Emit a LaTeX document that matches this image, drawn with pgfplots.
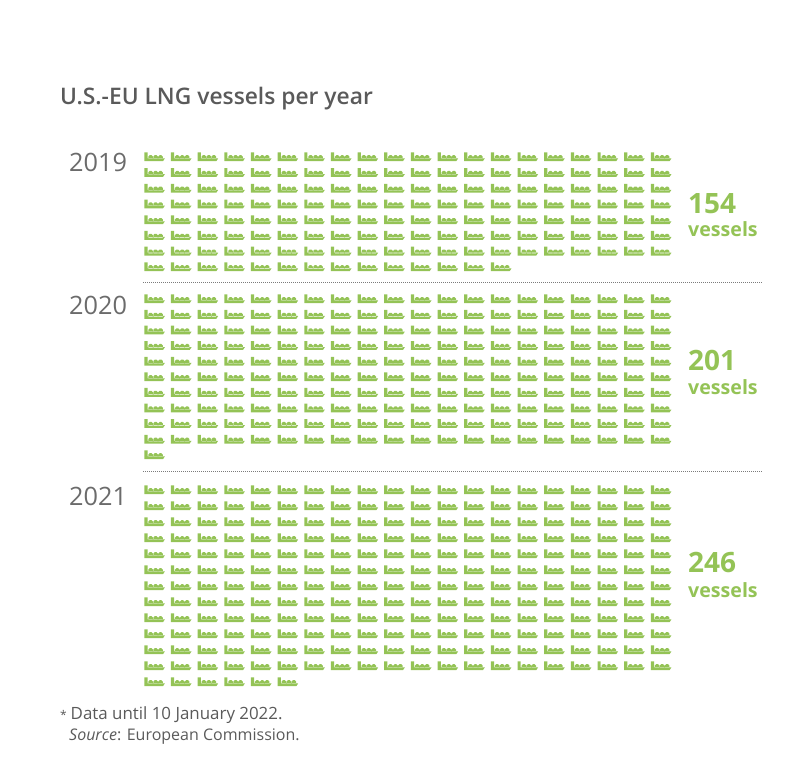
\documentclass[border=0pt]{standalone}
\usepackage{pgfplots}
\pgfplotsset{compat=1.18}
\usepackage{fontspec}
\setmainfont{Open Sans}
\definecolor{vgreen}{HTML}{94C356}
\definecolor{tgrey}{HTML}{5A5A5A}
\pgfdeclareplotmark{vessel}{%
  \pgfpathmoveto{\pgfqpoint{-10.2pt}{-4.2pt}}%
  \pgfpathlineto{\pgfqpoint{8.5pt}{-4.2pt}}%
  \pgfpathlineto{\pgfqpoint{10.4pt}{-1.4pt}}%
  \pgfpathlineto{\pgfqpoint{-7.0pt}{-1.4pt}}%
  \pgfpathlineto{\pgfqpoint{-7.0pt}{4.6pt}}%
  \pgfpathlineto{\pgfqpoint{-10.2pt}{4.6pt}}%
  \pgfpathclose
  \pgfpathmoveto{\pgfqpoint{-6.2pt}{-2pt}}\pgfpathlineto{\pgfqpoint{-6.2pt}{0.4pt}}\pgfpathlineto{\pgfqpoint{-4.8pt}{1.8pt}}\pgfpathlineto{\pgfqpoint{-3.0pt}{1.8pt}}\pgfpathlineto{\pgfqpoint{-1.6pt}{0.4pt}}\pgfpathlineto{\pgfqpoint{-1.6pt}{-2pt}}\pgfpathclose
  \pgfpathmoveto{\pgfqpoint{-1.2pt}{-2pt}}\pgfpathlineto{\pgfqpoint{-1.2pt}{0.4pt}}\pgfpathlineto{\pgfqpoint{0.2pt}{1.8pt}}\pgfpathlineto{\pgfqpoint{2.0pt}{1.8pt}}\pgfpathlineto{\pgfqpoint{3.4pt}{0.4pt}}\pgfpathlineto{\pgfqpoint{3.4pt}{-2pt}}\pgfpathclose
  \pgfpathmoveto{\pgfqpoint{3.7pt}{-2pt}}\pgfpathlineto{\pgfqpoint{3.7pt}{0.4pt}}\pgfpathlineto{\pgfqpoint{5.1pt}{1.8pt}}\pgfpathlineto{\pgfqpoint{6.9pt}{1.8pt}}\pgfpathlineto{\pgfqpoint{8.3pt}{0.4pt}}\pgfpathlineto{\pgfqpoint{8.3pt}{-2pt}}\pgfpathclose
  \pgfusepathqfill
}
\pgfplotsset{vesselgrid/.style={
  anchor=south west, scale only axis, width=533.2pt, hide axis, clip=false,
  xmin=0.5, xmax=20.5, ymin=0.5, y dir=reverse
}, vesselplot/.style={only marks, mark=vessel, color=vgreen, mark options={solid,fill=vgreen,draw=none}}}
\begin{document}
\begin{tikzpicture}[x=1pt,y=1pt]
\path (0,0) rectangle (803,783);
% 2019: 154 vessels
\begin{axis}[vesselgrid, at={(141.17pt,508.1pt)}, height=125.76pt, ymax=8.5]
\addplot[vesselplot] coordinates {
(1,1)(2,1)(3,1)(4,1)(5,1)(6,1)(7,1)(8,1)(9,1)(10,1)(11,1)(12,1)(13,1)(14,1)(15,1)(16,1)(17,1)(18,1)(19,1)(20,1)
(1,2)(2,2)(3,2)(4,2)(5,2)(6,2)(7,2)(8,2)(9,2)(10,2)(11,2)(12,2)(13,2)(14,2)(15,2)(16,2)(17,2)(18,2)(19,2)(20,2)
(1,3)(2,3)(3,3)(4,3)(5,3)(6,3)(7,3)(8,3)(9,3)(10,3)(11,3)(12,3)(13,3)(14,3)(15,3)(16,3)(17,3)(18,3)(19,3)(20,3)
(1,4)(2,4)(3,4)(4,4)(5,4)(6,4)(7,4)(8,4)(9,4)(10,4)(11,4)(12,4)(13,4)(14,4)(15,4)(16,4)(17,4)(18,4)(19,4)(20,4)
(1,5)(2,5)(3,5)(4,5)(5,5)(6,5)(7,5)(8,5)(9,5)(10,5)(11,5)(12,5)(13,5)(14,5)(15,5)(16,5)(17,5)(18,5)(19,5)(20,5)
(1,6)(2,6)(3,6)(4,6)(5,6)(6,6)(7,6)(8,6)(9,6)(10,6)(11,6)(12,6)(13,6)(14,6)(15,6)(16,6)(17,6)(18,6)(19,6)(20,6)
(1,7)(2,7)(3,7)(4,7)(5,7)(6,7)(7,7)(8,7)(9,7)(10,7)(11,7)(12,7)(13,7)(14,7)(15,7)(16,7)(17,7)(18,7)(19,7)(20,7)
(1,8)(2,8)(3,8)(4,8)(5,8)(6,8)(7,8)(8,8)(9,8)(10,8)(11,8)(12,8)(13,8)(14,8)
};
\end{axis}
% 2020: 201 vessels
\begin{axis}[vesselgrid, at={(141.17pt,320.2pt)}, height=171.6pt, ymax=11.5]
\addplot[vesselplot] coordinates {
(1,1)(2,1)(3,1)(4,1)(5,1)(6,1)(7,1)(8,1)(9,1)(10,1)(11,1)(12,1)(13,1)(14,1)(15,1)(16,1)(17,1)(18,1)(19,1)(20,1)
(1,2)(2,2)(3,2)(4,2)(5,2)(6,2)(7,2)(8,2)(9,2)(10,2)(11,2)(12,2)(13,2)(14,2)(15,2)(16,2)(17,2)(18,2)(19,2)(20,2)
(1,3)(2,3)(3,3)(4,3)(5,3)(6,3)(7,3)(8,3)(9,3)(10,3)(11,3)(12,3)(13,3)(14,3)(15,3)(16,3)(17,3)(18,3)(19,3)(20,3)
(1,4)(2,4)(3,4)(4,4)(5,4)(6,4)(7,4)(8,4)(9,4)(10,4)(11,4)(12,4)(13,4)(14,4)(15,4)(16,4)(17,4)(18,4)(19,4)(20,4)
(1,5)(2,5)(3,5)(4,5)(5,5)(6,5)(7,5)(8,5)(9,5)(10,5)(11,5)(12,5)(13,5)(14,5)(15,5)(16,5)(17,5)(18,5)(19,5)(20,5)
(1,6)(2,6)(3,6)(4,6)(5,6)(6,6)(7,6)(8,6)(9,6)(10,6)(11,6)(12,6)(13,6)(14,6)(15,6)(16,6)(17,6)(18,6)(19,6)(20,6)
(1,7)(2,7)(3,7)(4,7)(5,7)(6,7)(7,7)(8,7)(9,7)(10,7)(11,7)(12,7)(13,7)(14,7)(15,7)(16,7)(17,7)(18,7)(19,7)(20,7)
(1,8)(2,8)(3,8)(4,8)(5,8)(6,8)(7,8)(8,8)(9,8)(10,8)(11,8)(12,8)(13,8)(14,8)(15,8)(16,8)(17,8)(18,8)(19,8)(20,8)
(1,9)(2,9)(3,9)(4,9)(5,9)(6,9)(7,9)(8,9)(9,9)(10,9)(11,9)(12,9)(13,9)(14,9)(15,9)(16,9)(17,9)(18,9)(19,9)(20,9)
(1,10)(2,10)(3,10)(4,10)(5,10)(6,10)(7,10)(8,10)(9,10)(10,10)(11,10)(12,10)(13,10)(14,10)(15,10)(16,10)(17,10)(18,10)(19,10)(20,10)
(1,11)
};
\end{axis}
% 2021: 246 vessels
\begin{axis}[vesselgrid, at={(141.17pt,93pt)}, height=208pt, ymax=13.5]
\addplot[vesselplot] coordinates {
(1,1)(2,1)(3,1)(4,1)(5,1)(6,1)(7,1)(8,1)(9,1)(10,1)(11,1)(12,1)(13,1)(14,1)(15,1)(16,1)(17,1)(18,1)(19,1)(20,1)
(1,2)(2,2)(3,2)(4,2)(5,2)(6,2)(7,2)(8,2)(9,2)(10,2)(11,2)(12,2)(13,2)(14,2)(15,2)(16,2)(17,2)(18,2)(19,2)(20,2)
(1,3)(2,3)(3,3)(4,3)(5,3)(6,3)(7,3)(8,3)(9,3)(10,3)(11,3)(12,3)(13,3)(14,3)(15,3)(16,3)(17,3)(18,3)(19,3)(20,3)
(1,4)(2,4)(3,4)(4,4)(5,4)(6,4)(7,4)(8,4)(9,4)(10,4)(11,4)(12,4)(13,4)(14,4)(15,4)(16,4)(17,4)(18,4)(19,4)(20,4)
(1,5)(2,5)(3,5)(4,5)(5,5)(6,5)(7,5)(8,5)(9,5)(10,5)(11,5)(12,5)(13,5)(14,5)(15,5)(16,5)(17,5)(18,5)(19,5)(20,5)
(1,6)(2,6)(3,6)(4,6)(5,6)(6,6)(7,6)(8,6)(9,6)(10,6)(11,6)(12,6)(13,6)(14,6)(15,6)(16,6)(17,6)(18,6)(19,6)(20,6)
(1,7)(2,7)(3,7)(4,7)(5,7)(6,7)(7,7)(8,7)(9,7)(10,7)(11,7)(12,7)(13,7)(14,7)(15,7)(16,7)(17,7)(18,7)(19,7)(20,7)
(1,8)(2,8)(3,8)(4,8)(5,8)(6,8)(7,8)(8,8)(9,8)(10,8)(11,8)(12,8)(13,8)(14,8)(15,8)(16,8)(17,8)(18,8)(19,8)(20,8)
(1,9)(2,9)(3,9)(4,9)(5,9)(6,9)(7,9)(8,9)(9,9)(10,9)(11,9)(12,9)(13,9)(14,9)(15,9)(16,9)(17,9)(18,9)(19,9)(20,9)
(1,10)(2,10)(3,10)(4,10)(5,10)(6,10)(7,10)(8,10)(9,10)(10,10)(11,10)(12,10)(13,10)(14,10)(15,10)(16,10)(17,10)(18,10)(19,10)(20,10)
(1,11)(2,11)(3,11)(4,11)(5,11)(6,11)(7,11)(8,11)(9,11)(10,11)(11,11)(12,11)(13,11)(14,11)(15,11)(16,11)(17,11)(18,11)(19,11)(20,11)
(1,12)(2,12)(3,12)(4,12)(5,12)(6,12)(7,12)(8,12)(9,12)(10,12)(11,12)(12,12)(13,12)(14,12)(15,12)(16,12)(17,12)(18,12)(19,12)(20,12)
(1,13)(2,13)(3,13)(4,13)(5,13)(6,13)
};
\end{axis}
\begin{scope}[shift={(0,783)},y=-1pt,x=1pt]
\node[anchor=base west,inner sep=0,text=tgrey,font=\fontsize{22.8}{26}\selectfont\fontspec{Open Sans Semibold}] at (60,105) {U.S.-EU LNG vessels per year};
\foreach \yr/\yy in {2019/172,2020/315,2021/506}
  \node[anchor=base west,inner sep=0,text=tgrey!90,font=\fontsize{25.3}{28}\selectfont] at (69,\yy) {\yr};
\foreach \n/\yy/\yv in {154/214/237,201/371/395,246/573/598}{
  \node[anchor=base west,inner sep=0,text=vgreen,font=\fontsize{28}{30}\selectfont\bfseries] at (688,\yy) {\n};
  \node[anchor=base west,inner sep=0,text=vgreen,font=\fontsize{19.6}{22}\selectfont\bfseries] at (688,\yv) {vessels};
}
\draw[tgrey!80,line width=0.8pt,dash pattern=on 1pt off 1pt] (143,282.5)--(763,282.5);
\draw[tgrey!80,line width=0.8pt,dash pattern=on 1pt off 1pt] (143,471)--(763,471);
\node[anchor=base west,inner sep=0,text=tgrey,font=\fontsize{12}{19}\selectfont] at (60,720) {*};
\node[anchor=base west,inner sep=0,text=tgrey,font=\fontsize{16.9}{19}\selectfont] at (70.5,720) {Data until 10 January 2022.};
\node[anchor=base west,inner sep=0,text=tgrey,font=\fontsize{16}{19}\selectfont] at (69,741) {\textit{Source}: European Commission.};
\end{scope}
\end{tikzpicture}
\end{document}
